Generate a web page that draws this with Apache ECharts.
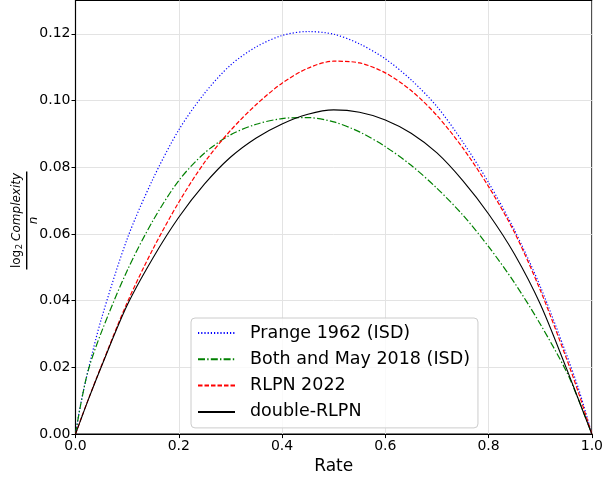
<!DOCTYPE html>
<html>
<head>
<meta charset="utf-8">
<script src="https://cdn.jsdelivr.net/npm/echarts@6/dist/echarts.min.js"></script>
<style>
html,body{margin:0;padding:0;background:#fff;}
#chart{width:606px;height:480px;}
</style>
</head>
<body>
<div id="chart"></div>
<script>
// Rates (x values)
const rates = [0, 0.01, 0.025, 0.05, 0.1, 0.15, 0.2, 0.25, 0.3, 0.35, 0.4, 0.45, 0.5, 0.55, 0.6, 0.65, 0.7, 0.75, 0.8, 0.85, 0.9, 0.95, 0.975, 1.0];
// Series values
const prange = [0, 0.0090, 0.0195, 0.0345, 0.0585, 0.0765, 0.0912, 0.1022, 0.1106, 0.1161, 0.1195, 0.1207, 0.1199, 0.1170, 0.1125, 0.1062, 0.0982, 0.0876, 0.0754, 0.0612, 0.0443, 0.0242, 0.0132, 0];
const bothMay = [0, 0.0088, 0.0193, 0.0305, 0.0490, 0.0640, 0.0760, 0.0843, 0.0897, 0.0929, 0.0946, 0.0949, 0.0936, 0.0906, 0.0862, 0.0806, 0.0737, 0.0657, 0.0562, 0.0454, 0.0330, 0.0190, 0.0100, 0];
const rlpn = [0, 0.0043, 0.0105, 0.0204, 0.0394, 0.0555, 0.0695, 0.0815, 0.0910, 0.0988, 0.1052, 0.1097, 0.1118, 0.1113, 0.1083, 0.1030, 0.0955, 0.0858, 0.0742, 0.0605, 0.0432, 0.0230, 0.0120, 0];
const doubleRlpn = [0, 0.0042, 0.0104, 0.0202, 0.0386, 0.0528, 0.0650, 0.0750, 0.0830, 0.0888, 0.0930, 0.0959, 0.0972, 0.0965, 0.0942, 0.0902, 0.0843, 0.0760, 0.0660, 0.0540, 0.0390, 0.0200, 0.0100, 0];
const seriesNames = ['Prange 1962 (ISD)', 'Both and May 2018 (ISD)', 'RLPN 2022', 'double-RLPN'];
const yTicks = [0, 0.02, 0.04, 0.06, 0.08, 0.10, 0.12];
const xTicks = [0, 0.2, 0.4, 0.6, 0.8, 1.0];

const pair = arr => rates.map((r, i) => [r, arr[i]]);

const chart = echarts.init(document.getElementById('chart'), null, {renderer: 'canvas'});
const FONT = 'DejaVu Sans';

function mkSeries(name, data, color, type, width) {
  return {
    name: name, type: 'line', data: pair(data), smooth: 0.3,
    showSymbol: false, symbol: 'none', symbolSize: 0, animation: false,
    lineStyle: {color: color, width: width, type: type},
    itemStyle: {color: color}
  };
}

chart.setOption({
  animation: false,
  backgroundColor: '#ffffff',
  grid: {left: 75.5, right: 10.5, top: 0.5, bottom: 43.3, show: true, borderColor: '#000', borderWidth: 1.1, backgroundColor: 'transparent'},
  xAxis: {
    type: 'value', min: 0, max: 1, interval: 0.2,
    name: 'Rate', nameLocation: 'middle', nameGap: 29,
    nameTextStyle: {fontFamily: FONT, fontSize: 17, color: '#000', verticalAlign: 'middle'},
    axisLine: {show: true, lineStyle: {color: '#000', width: 1.1}},
    axisTick: {show: true, length: 4, inside: false, lineStyle: {color: '#000', width: 1}},
    axisLabel: {fontFamily: FONT, fontSize: 14, color: '#000', margin: 5,
      formatter: v => xTicks.some(t => Math.abs(t - v) < 1e-9) ? v.toFixed(1) : ''},
    splitLine: {show: true, lineStyle: {color: '#e3e3e3', width: 1}}
  },
  yAxis: {
    type: 'value', min: 0, max: 0.13, interval: 0.02,
    axisLine: {show: true, lineStyle: {color: '#000', width: 1.1}},
    axisTick: {show: true, length: 4, customValues: yTicks, lineStyle: {color: '#000', width: 1}},
    axisLabel: {fontFamily: FONT, fontSize: 14, color: '#000', margin: 5, showMaxLabel: false,
      formatter: v => yTicks.some(t => Math.abs(t - v) < 1e-9) ? v.toFixed(2) : ''},
    splitLine: {show: true, lineStyle: {color: '#e3e3e3', width: 1}}
  },
  legend: {
    show: true, orient: 'vertical', left: 191, top: 318,
    data: seriesNames,
    padding: [5, 8, 6, 6], itemGap: 6.3, itemWidth: 37, itemHeight: 20,
    itemStyle: {opacity: 0},
    backgroundColor: 'rgba(255,255,255,0.8)', borderColor: '#cccccc', borderWidth: 1, borderRadius: 4,
    textStyle: {fontFamily: FONT, fontSize: 17.5, color: '#000', lineHeight: 20, padding: [0, 0, 0, 10]}
  },
  graphic: [{
    type: 'group', x: 26.7, y: 220.5, rotation: Math.PI / 2,
    children: [
      {type: 'line', shape: {x1: -49, y1: 0, x2: 49, y2: 0}, style: {stroke: '#000', lineWidth: 1.4}},
      {type: 'text', x: 0, y: -2, style: {
        text: '{a|log}{s|2}{b|Complexity}', align: 'center', verticalAlign: 'bottom',
        rich: {
          a: {fontFamily: FONT, fontSize: 12, fill: '#000', lineHeight: 16, verticalAlign: 'middle'},
          s: {fontFamily: FONT, fontSize: 8.5, fill: '#000', lineHeight: 10, verticalAlign: 'bottom', padding: [0, 3, 0, 0.5]},
          b: {fontFamily: FONT, fontSize: 12, fontStyle: 'italic', fill: '#000', lineHeight: 16, verticalAlign: 'middle'}
        }
      }},
      {type: 'text', x: 0, y: 1, style: {
        text: 'n', align: 'center', verticalAlign: 'top',
        fontFamily: FONT, fontSize: 12, fontStyle: 'italic', fill: '#000'
      }}
    ]
  }],
  series: [
    mkSeries(seriesNames[0], prange, '#0000ff', [1.2, 2], 1.2),
    mkSeries(seriesNames[1], bothMay, '#008000', [7, 2.2, 1.4, 2.2], 1.2),
    mkSeries(seriesNames[2], rlpn, '#ff0000', [4.5, 2], 1.2),
    mkSeries(seriesNames[3], doubleRlpn, '#000000', 'solid', 1.1)
  ]
});
</script>
</body>
</html>
